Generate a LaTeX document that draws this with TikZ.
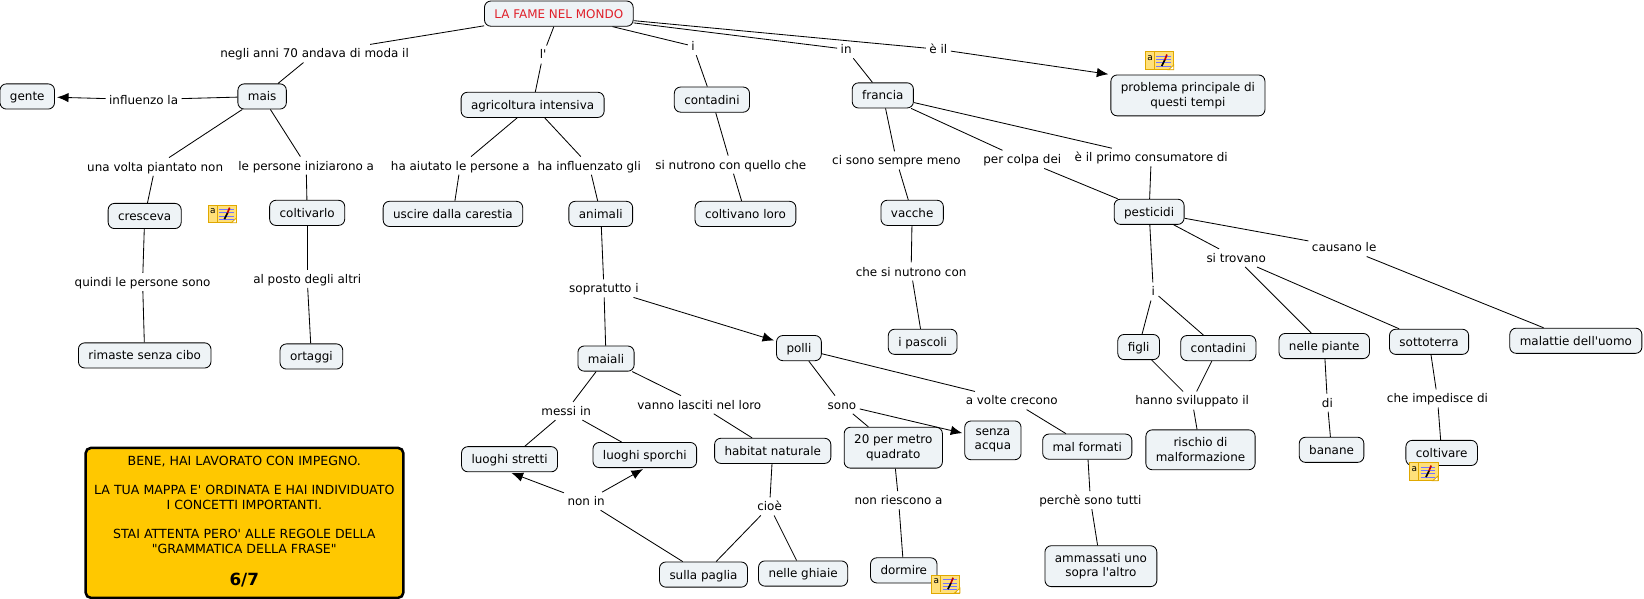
\documentclass[tikz,border=0pt]{standalone}
\usepackage{fontspec}
\newfontfamily\mapfont{DejaVu Sans}
\usetikzlibrary{arrows.meta}
\definecolor{conceptfill}{HTML}{EEF3F6}
\definecolor{notefill}{HTML}{FFE07A}
\definecolor{notebord}{HTML}{E0A800}
\definecolor{votefill}{HTML}{FFC800}
\definecolor{titlered}{HTML}{E0202A}

% small note marker beside a concept
\newcommand{\notemark}[2]{
  \begin{scope}[shift={(#1)}]
    \node (#2) [notebox] at (0,0) {};
    \node (#2t) [notechar] at (-9,-3) {a};
    \draw[notebord,line width=0.7pt] (-5,-8) -- (-5,8);
    \foreach \y in {-4,-1,2,5} {
      \draw[blue!55,line width=0.8pt] (-3,\y) -- (11,\y);
    }
    \draw[black,line width=1.6pt] (2,5) -- (5,-1);
    \draw[red!75!black,line width=1.6pt] (5,-1) -- (7,-6);
    \filldraw[draw=notebord,fill=white] (8.5,8.5) -- (13.5,8.5) -- (13.5,4) -- cycle;
  \end{scope}
}

\begin{document}
\begin{tikzpicture}[x=1pt,y=-1pt,
    font=\mapfont\fontsize{11.4}{14}\selectfont,
    >={Latex[length=11pt,width=9pt]},
    line width=0.8pt,
    conceptbox/.style={draw=black,fill=conceptfill,rounded corners=6pt,align=center,
      inner xsep=9.5pt,inner ysep=5pt},
    concept/.style={conceptbox,minimum height=24pt,text height=10pt,text depth=1.5pt},
    concepttwo/.style={conceptbox,minimum height=39pt},
    phrase/.style={inner xsep=3pt,inner ysep=2.5pt,text height=10pt,text depth=1.5pt},
    notebox/.style={draw=notebord,fill=notefill,minimum width=27pt,minimum height=17pt,inner sep=0pt},
    notechar/.style={inner sep=0pt,font=\mapfont\fontsize{8.5}{9}\selectfont}]
  \useasboundingbox (0,0) rectangle (1568,571);

  % concepts
  \node (fame) [concept,text=titlered] at (533,13) {LA FAME NEL MONDO};
  \node (gente) [concept] at (26,92) {gente};
  \node (mais) [concept] at (250,92) {mais};
  \node (agricoltura) [concept] at (508,100) {agricoltura intensiva};
  \node (contadini) [concept] at (679,95) {contadini};
  \node (francia) [concept] at (842,91) {francia};
  \node (problema) [concepttwo] at (1133,91) {problema principale di\\questi tempi};
  \node (cresceva) [concept] at (138,206) {cresceva};
  \node (coltivarlo) [concept] at (293,203) {coltivarlo};
  \node (uscire) [concept] at (432,204) {uscire dalla carestia};
  \node (animali) [concept] at (573,204) {animali};
  \node (coltivano) [concept] at (711,204) {coltivano loro};
  \node (vacche) [concept] at (870,203) {vacche};
  \node (pesticidi) [concept] at (1096,202) {pesticidi};
  \node (rimaste) [concept] at (138,339) {rimaste senza cibo};
  \node (ortaggi) [concept] at (297,340) {ortaggi};
  \node (polli) [concept] at (762,332) {polli};
  \node (maiali) [concept] at (578,342) {maiali};
  \node (pascoli) [concept] at (880,326) {i pascoli};
  \node (figli) [concept] at (1086,331) {figli};
  \node (contadinidue) [concept] at (1162,332) {contadini};
  \node (piante) [concept] at (1263,330) {nelle piante};
  \node (sottoterra) [concept] at (1363,326) {sottoterra};
  \node (malattie) [concept] at (1503,325) {malattie dell'uomo};
  \node (stretti) [concept] at (486,438) {luoghi stretti};
  \node (sporchi) [concept] at (615,434) {luoghi sporchi};
  \node (habitat) [concept] at (737,430) {habitat naturale};
  \node (metro) [concepttwo] at (852,427) {20 per metro\\quadrato};
  \node (acqua) [concepttwo,minimum height=37pt] at (947,420) {senza\\acqua};
  \node (formati) [concept] at (1037,426) {mal formati};
  \node (rischio) [concepttwo,minimum height=38pt] at (1145,429) {rischio di\\malformazione};
  \node (banane) [concept] at (1270,429) {banane};
  \node (coltivare) [concept] at (1375,432) {coltivare};
  \node (paglia) [concept] at (671,548) {sulla paglia};
  \node (ghiaie) [concept] at (766,547) {nelle ghiaie};
  \node (dormire) [concept] at (862,544) {dormire};
  \node (ammassati) [concepttwo] at (1050,540) {ammassati uno\\sopra l'altro};

  % linking phrases
  \node (lnegli) [phrase] at (300,51) {negli anni 70 andava di moda il};
  \node (ll) [phrase] at (518,52) {l'};
  \node (li) [phrase] at (661,44) {i};
  \node (lin) [phrase] at (807,47) {in};
  \node (leil) [phrase] at (895,47) {è il};
  \node (linfluenzo) [phrase] at (137,95) {influenzo la};
  \node (lvolta) [phrase] at (148,159) {una volta piantato non};
  \node (lpersone) [phrase] at (292,158) {le persone iniziarono a};
  \node (laiutato) [phrase] at (439,158) {ha aiutato le persone a};
  \node (linfluenzato) [phrase] at (562,158) {ha influenzato gli};
  \node (lnutrono) [phrase] at (697,157) {si nutrono con quello che};
  \node (lsempre) [phrase] at (855,153) {ci sono sempre meno};
  \node (lcolpa) [phrase] at (975,152) {per colpa dei};
  \node (lprimo) [phrase] at (1098,150) {è il primo consumatore di};
  \node (ltrovano) [phrase] at (1179,246) {si trovano};
  \node (lcausano) [phrase] at (1282,236) {causano le};
  \node (lquindi) [phrase] at (136,269) {quindi le persone sono};
  \node (lposto) [phrase] at (293,266) {al posto degli altri};
  \node (lsicon) [phrase] at (869,259) {che si nutrono con};
  \node (lsopra) [phrase] at (576,275) {sopratutto i};
  \node (lipest) [phrase] at (1100,278) {i};
  \node (limpedisce) [phrase] at (1371,380) {che impedisce di};
  \node (ldi) [phrase] at (1266,384) {di};
  \node (lsviluppato) [phrase] at (1137,382) {hanno sviluppato il};
  \node (lmessi) [phrase] at (540,392) {messi in};
  \node (lvanno) [phrase] at (667,386) {vanno lasciti nel loro};
  \node (lsono) [phrase] at (803,386) {sono};
  \node (lvolte) [phrase] at (965,382) {a volte crecono};
  \node (lnonin) [phrase] at (559,478) {non in};
  \node (lcioe) [phrase] at (734,483) {cioè};
  \node (lriescono) [phrase] at (857,477) {non riescono a};
  \node (ltutti) [phrase] at (1040,477) {perchè sono tutti};

  \foreach \a/\b in {fame/lnegli,lnegli/mais,fame/ll,ll/agricoltura,fame/li,li/contadini,
      fame/lin,lin/francia,fame/leil,mais/linfluenzo,mais/lvolta,lvolta/cresceva,
      mais/lpersone,lpersone/coltivarlo,agricoltura/laiutato,laiutato/uscire,
      agricoltura/linfluenzato,linfluenzato/animali,contadini/lnutrono,lnutrono/coltivano,
      francia/lsempre,lsempre/vacche,francia/lcolpa,lcolpa/pesticidi,francia/lprimo,lprimo/pesticidi,
      cresceva/lquindi,lquindi/rimaste,coltivarlo/lposto,lposto/ortaggi,vacche/lsicon,lsicon/pascoli,
      animali/lsopra,lsopra/maiali,maiali/lmessi,lmessi/stretti,lmessi/sporchi,maiali/lvanno,lvanno/habitat,
      habitat/lcioe,lcioe/paglia,lcioe/ghiaie,paglia/lnonin,polli/lsono,lsono/metro,polli/lvolte,lvolte/formati,
      metro/lriescono,lriescono/dormire,formati/ltutti,ltutti/ammassati,pesticidi/lipest,lipest/figli,lipest/contadinidue,
      pesticidi/ltrovano,ltrovano/piante,ltrovano/sottoterra,pesticidi/lcausano,lcausano/malattie,
      figli/lsviluppato,contadinidue/lsviluppato,lsviluppato/rischio,piante/ldi,ldi/banane,
      sottoterra/limpedisce,limpedisce/coltivare} {
    \draw (\a) -- (\b);
  }
  \foreach \a/\b in {leil/problema.north west,linfluenzo/gente,lsopra/polli,lnonin/stretti.south,lnonin/sporchi.south,lsono/acqua} {
    \draw[->,shorten >=2pt] (\a) -- (\b);
  }

  % note markers
  \notemark{212,204}{notea}
  \notemark{1106,58}{noteb}
  \notemark{1358,450}{notec}
  \notemark{902,557}{noted}

  % teacher's mark
  \node (voto) [draw=black,line width=2.4pt,fill=votefill,rounded corners=5pt,align=center,
    minimum width=303pt,minimum height=143pt,inner sep=0pt,anchor=north west] at (80.5,426) {};
  \node (vototesto) [align=center,inner sep=0pt,anchor=north,font=\mapfont\fontsize{12}{14.5}\selectfont] at (233,434.5) {BENE, HAI LAVORATO CON IMPEGNO.\\[13pt]
    LA TUA MAPPA E' ORDINATA E HAI INDIVIDUATO\\I CONCETTI IMPORTANTI.\\[13pt]
    STAI ATTENTA PERO' ALLE REGOLE DELLA\\"GRAMMATICA DELLA FRASE"};
  \node (votonum) [inner sep=0pt,font=\mapfont\bfseries\fontsize{16}{18}\selectfont] at (233,553) {6/7};
\end{tikzpicture}
\end{document}
